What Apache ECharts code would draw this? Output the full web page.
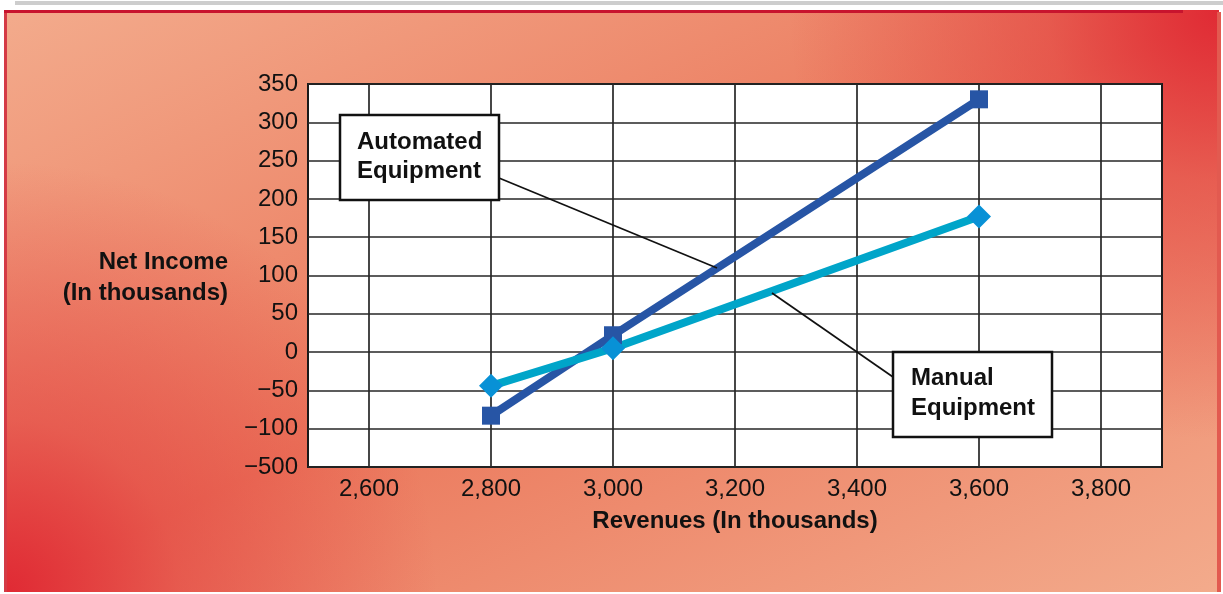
<!DOCTYPE html>
<html>
<head>
<meta charset="utf-8">
<script src="https://cdn.jsdelivr.net/npm/echarts@6/dist/echarts.min.js"></script>
<style>
  html, body { margin: 0; padding: 0; background: #ffffff; }
  #topbar { position: absolute; left: 15px; top: 1px; width: 1208px; height: 4px; background: #cdcdcd; }
  #panel {
    position: absolute; left: 4px; top: 10px; width: 1215px; height: 582px;
    background:
      radial-gradient(circle 430px at 100% 0%, rgba(224,42,52,1) 0%, rgba(226,60,62,0.55) 40%, rgba(230,80,70,0) 100%),
      radial-gradient(circle 430px at 0% 100%, rgba(224,42,52,1) 0%, rgba(226,60,62,0.55) 40%, rgba(230,80,70,0) 100%),
      linear-gradient(to bottom right, #f3ab8c 0%, #eb785c 50%, #f3ab8c 100%);
    border-left: 3px solid #d43a45;
    box-sizing: border-box;
  }
  #redline { position: absolute; left: 4px; top: 10px; width: 1179px; height: 3px; background: #c8142e; }
  #rightedge { position: absolute; left: 1217px; top: 12px; width: 4px; height: 580px; background: #e25a50; }
  #chart { position: absolute; left: 0; top: 0; width: 1223px; height: 594px; }
</style>
</head>
<body>
<div id="topbar"></div>
<div id="panel"></div>
<div id="redline"></div>
<div id="rightedge"></div>
<div id="chart"></div>
<script>
// ---- data ----
const revenues = [2800, 3000, 3600];
const automatedIncome = [-83, 22, 330];
const manualIncome = [-44, 5, 177];
const xTickValues = [2600, 2800, 3000, 3200, 3400, 3600, 3800];
const xTickLabels = ['2,600', '2,800', '3,000', '3,200', '3,400', '3,600', '3,800'];
const yTickValues = [-150, -100, -50, 0, 50, 100, 150, 200, 250, 300, 350];
const yTickLabels = ['\u2212500', '\u2212100', '\u221250', '0', '50', '100', '150', '200', '250', '300', '350'];
const seriesNames = ['Automated Equipment', 'Manual Equipment'];

const FONT = '"Liberation Sans", Arial, Helvetica, sans-serif';
const chart = echarts.init(document.getElementById('chart'), null, { renderer: 'canvas' });

function pairs(xs, ys) { return xs.map((x, i) => [x, ys[i]]); }

chart.setOption({
  animation: false,
  backgroundColor: 'transparent',
  grid: {
    left: 308, top: 84, right: 61, bottom: 127,
    show: true, backgroundColor: '#ffffff', borderColor: '#1a1a1a', borderWidth: 2
  },
  xAxis: {
    type: 'value', min: 2500, max: 3900, interval: 100,
    axisLine: { show: false }, axisTick: { show: false },
    axisLabel: {
      margin: 10, color: '#111', fontFamily: FONT, fontSize: 24,
      formatter: v => { const i = xTickValues.indexOf(v); return i >= 0 ? xTickLabels[i] : ''; }
    },
    splitLine: { show: true, lineStyle: { color: ['rgba(0,0,0,0)', '#262626'], width: 1.7 } },
    name: 'Revenues (In thousands)', nameLocation: 'middle', nameGap: 42,
    nameTextStyle: { color: '#111', fontFamily: FONT, fontSize: 24, fontWeight: 'bold' }
  },
  yAxis: {
    type: 'value', min: -150, max: 350, interval: 50,
    axisLine: { show: false }, axisTick: { show: false },
    axisLabel: {
      margin: 10, color: '#111', fontFamily: FONT, fontSize: 24,
      formatter: v => { const i = yTickValues.indexOf(v); return i >= 0 ? yTickLabels[i] : ''; }
    },
    splitLine: { show: true, lineStyle: { color: '#262626', width: 1.7 } }
  },
  series: [
    {
      name: seriesNames[0], type: 'line', data: pairs(revenues, automatedIncome),
      symbol: 'rect', symbolSize: 18,
      lineStyle: { color: '#2755a5', width: 8 },
      itemStyle: { color: '#2755a5' }
    },
    {
      name: seriesNames[1], type: 'line', data: pairs(revenues, manualIncome),
      symbol: 'diamond', symbolSize: 24,
      lineStyle: { color: '#00a5c9', width: 8 },
      itemStyle: { color: '#0891d6' }
    }
  ],
  graphic: [
    {
      type: 'text', x: 228, y: 278, z: 100,
      style: { text: 'Net Income\n(In thousands)', align: 'right', verticalAlign: 'middle',
        font: 'bold 24px ' + FONT, lineHeight: 31, fill: '#111' }
    },
    { type: 'line', z: 100, shape: { x1: 499, y1: 178, x2: 717, y2: 268 }, style: { stroke: '#111', lineWidth: 1.7 } },
    { type: 'line', z: 100, shape: { x1: 893, y1: 377, x2: 772, y2: 293 }, style: { stroke: '#111', lineWidth: 1.7 } },
    { type: 'rect', z: 101, shape: { x: 340, y: 115, width: 159, height: 85 }, style: { fill: '#fff', stroke: '#111', lineWidth: 2.5 } },
    {
      type: 'text', z: 102, x: 357, y: 157,
      style: { text: 'Automated\nEquipment', align: 'left', verticalAlign: 'middle',
        font: 'bold 24px ' + FONT, lineHeight: 29, fill: '#111' }
    },
    { type: 'rect', z: 101, shape: { x: 893, y: 352, width: 159, height: 85 }, style: { fill: '#fff', stroke: '#111', lineWidth: 2.5 } },
    {
      type: 'text', z: 102, x: 911, y: 393,
      style: { text: 'Manual\nEquipment', align: 'left', verticalAlign: 'middle',
        font: 'bold 24px ' + FONT, lineHeight: 30, fill: '#111' }
    }
  ]
});
</script>
</body>
</html>
